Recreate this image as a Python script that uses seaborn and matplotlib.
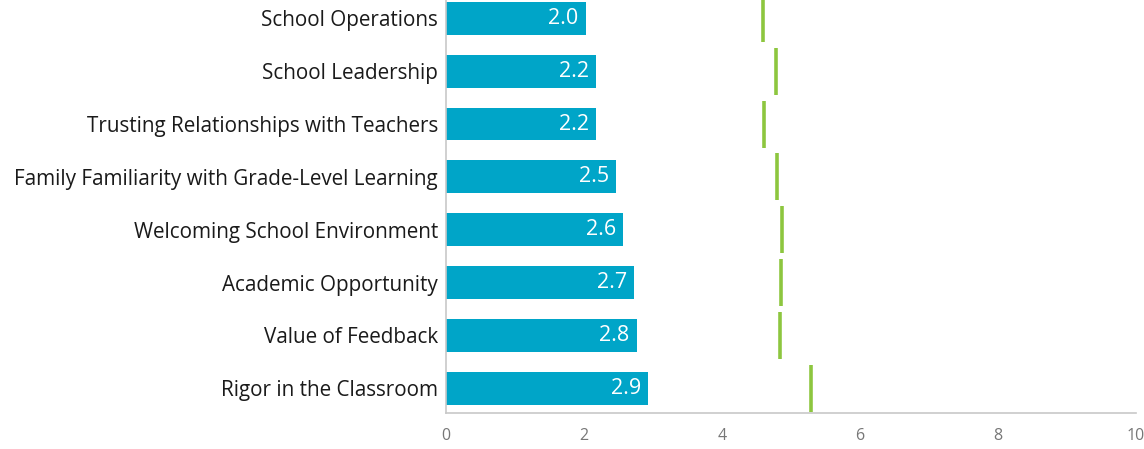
import numpy as np
import pandas as pd
import matplotlib
matplotlib.use("Agg")
import matplotlib.pyplot as plt
import seaborn as sns

# 数据
categories = [
    "School Operations",
    "School Leadership",
    "Trusting Relationships with Teachers",
    "Family Familiarity with Grade-Level Learning",
    "Welcoming School Environment",
    "Academic Opportunity",
    "Value of Feedback",
    "Rigor in the Classroom",
]
scores = [2.02, 2.17, 2.17, 2.46, 2.57, 2.73, 2.76, 2.93]
benchmarks = [4.60, 4.78, 4.61, 4.80, 4.87, 4.86, 4.84, 5.29]
x_ticks = [0, 2, 4, 6, 8, 10]

df = pd.DataFrame({"category": categories, "score": scores})

sns.set_theme(style="white")
plt.rcParams["font.family"] = ["Open Sans", "DejaVu Sans"]

fig = plt.figure(figsize=(11.44, 4.49), dpi=100)
ax = fig.add_axes([0.390, 0.0802, 0.603, 0.920])

sns.barplot(data=df, x="score", y="category", orient="h", color="#00A5C8",
            saturation=1, width=0.62, linewidth=0, ax=ax)

# 基准线
ypos = np.arange(len(categories))
ax.vlines(benchmarks, ypos - 0.445, ypos + 0.445, color="#8DC63F", linewidth=2.6)

# 数值标签
for i, v in enumerate(scores):
    ax.text(v - 0.1, i, f"{v:.1f}", ha="right", va="center",
            color="white", fontsize=15.5)

ax.set_xlim(0, 10)
ax.set_ylim(7.47, -0.35)
ax.set_xticks(x_ticks)
ax.set_xticklabels([str(t) for t in x_ticks], color="#777777", fontsize=11.5)
ax.tick_params(axis="x", length=0, pad=11)
ax.tick_params(axis="y", length=0, pad=6, labelsize=14.9, labelcolor="#1a1a1a")
ax.set_xlabel("")
ax.set_ylabel("")
for s in ["top", "right"]:
    ax.spines[s].set_visible(False)
for s in ["left", "bottom"]:
    ax.spines[s].set_color("#c8c8c8")
    ax.spines[s].set_linewidth(1.2)

fig.savefig("out.png", dpi=100)
